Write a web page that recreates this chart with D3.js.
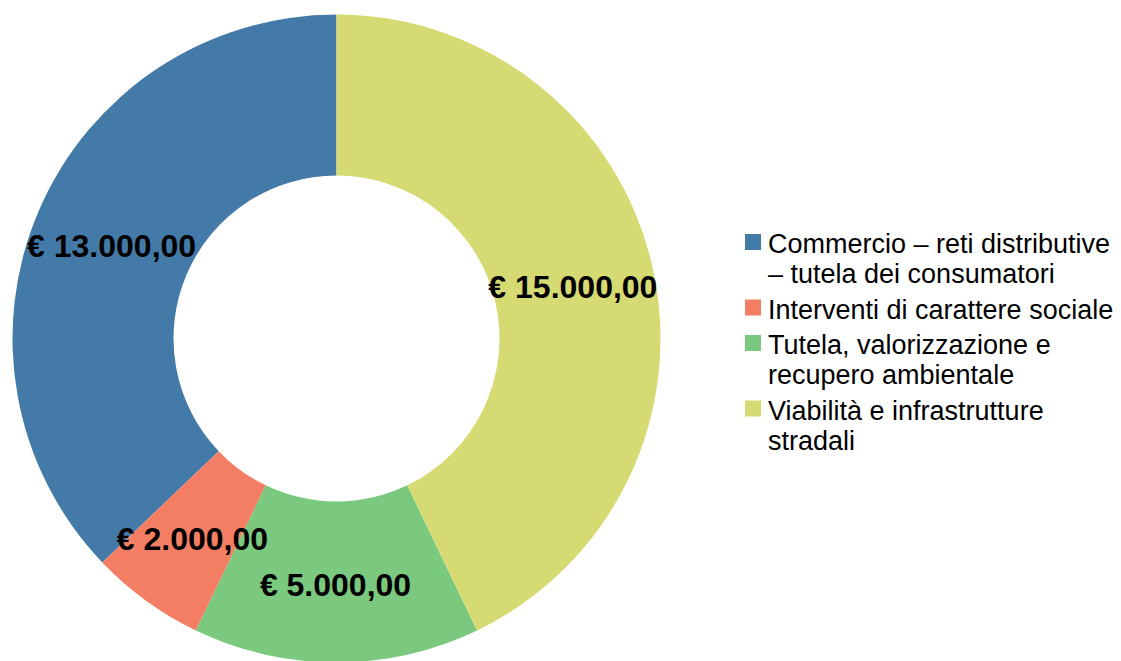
<!DOCTYPE html>
<html>
<head>
<meta charset="utf-8">
<script src="https://cdn.jsdelivr.net/npm/d3@7/dist/d3.min.js"></script>
<style>
  html, body { margin: 0; padding: 0; background: #fff; }
  svg { display: block; font-family: "Liberation Sans", Arial, sans-serif; }
</style>
</head>
<body>
<svg id="chart" width="1121" height="661"></svg>
<script>
const categories = [
  "Commercio – reti distributive – tutela dei consumatori",
  "Interventi di carattere sociale",
  "Tutela, valorizzazione e recupero ambientale",
  "Viabilità e infrastrutture stradali"
];
const values = [13000, 2000, 5000, 15000];
const colors = ["#447aa7", "#f37e64", "#7ac97f", "#d5db72"];

const fmt = v => "€ " + d3.format(",.2f")(v).replace(/,/g, "#").replace(/\./g, ",").replace(/#/g, ".");

const svg = d3.select("#chart");
const cx = 336.5, cy = 338.5, rOuter = 324, rInner = 163;

const data = categories.map((c, i) => ({ cat: c, value: values[i], color: colors[i] }));

const pie = d3.pie().sort(null).value(d => d.value).startAngle(0).endAngle(-2 * Math.PI);
const arc = d3.arc().innerRadius(rInner).outerRadius(rOuter);

const g = svg.append("g").attr("transform", `translate(${cx},${cy})`);
const arcs = pie(data);
g.selectAll("path.slice").data(arcs).join("path")
  .attr("class", "slice")
  .attr("d", arc)
  .attr("fill", d => d.data.color);

g.selectAll("text.lbl").data(arcs).join("text")
  .attr("class", "lbl")
  .attr("x", d => arc.centroid(d)[0] - 1)
  .attr("y", d => arc.centroid(d)[1])
  .attr("dy", "0.44em")
  .attr("text-anchor", "middle")
  .attr("font-weight", "bold")
  .attr("font-size", 32)
  .attr("fill", "#000")
  .text(d => fmt(d.data.value));

// Legend
const legX = 745, textX = 768, fs = 27, lineH = 30, gap = 35.5;
const maxW = 356;
const leg = svg.append("g");
let baseY = 253;
data.forEach((d, i) => {
  const t = leg.append("text").attr("x", textX).attr("y", baseY)
    .attr("font-size", fs).attr("fill", "#000");
  const words = d.cat.split(" ");
  let line = [];
  let ts = t.append("tspan").attr("x", textX).attr("y", baseY);
  let n = 0;
  words.forEach(w => {
    line.push(w);
    ts.text(line.join(" "));
    if (ts.node().getComputedTextLength() > maxW && line.length > 1) {
      line.pop();
      ts.text(line.join(" "));
      line = [w];
      n++;
      ts = t.append("tspan").attr("x", textX).attr("y", baseY + n * lineH).text(w);
    }
  });
  leg.append("rect").attr("x", legX).attr("y", baseY - 19).attr("width", 16).attr("height", 16)
    .attr("fill", d.color);
  baseY += n * lineH + gap;
});
</script>
</body>
</html>
